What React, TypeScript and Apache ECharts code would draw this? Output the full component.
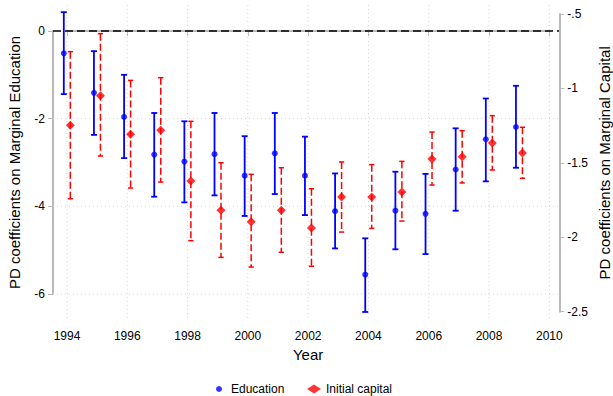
import React, { useEffect, useRef } from "react";
import * as echarts from "echarts";

// ---- data ----
const years = [1994, 1995, 1996, 1997, 1998, 1999, 2000, 2001, 2002, 2003, 2004, 2005, 2006, 2007, 2008, 2009];

// Education: PD coefficients (left axis)
const eduCoef = [-0.51, -1.41, -1.96, -2.82, -2.98, -2.81, -3.3, -2.79, -3.3, -4.11, -5.56, -4.1, -4.17, -3.16, -2.47, -2.19];
const eduLow = [-1.44, -2.37, -2.9, -3.78, -3.91, -3.75, -4.22, -3.72, -4.2, -4.96, -6.41, -4.98, -5.09, -4.1, -3.43, -3.12];
const eduHigh = [0.43, -0.46, -1.0, -1.87, -2.06, -1.87, -2.4, -1.87, -2.41, -3.25, -4.73, -3.21, -3.26, -2.22, -1.54, -1.25];

// Initial capital: PD coefficients (right axis)
const capCoef = [-1.248, -1.049, -1.308, -1.281, -1.622, -1.819, -1.895, -1.819, -1.938, -1.729, -1.729, -1.696, -1.474, -1.459, -1.367, -1.434];
const capLow = [-1.741, -1.454, -1.669, -1.629, -2.023, -2.135, -2.2, -2.101, -2.195, -1.965, -1.94, -1.891, -1.649, -1.635, -1.548, -1.604];
const capHigh = [-0.753, -0.632, -0.946, -0.928, -1.221, -1.499, -1.577, -1.533, -1.674, -1.494, -1.512, -1.49, -1.293, -1.284, -1.183, -1.261];

const xTicks = [1994, 1996, 1998, 2000, 2002, 2004, 2006, 2008, 2010];
const leftGridTicks = [-2, -4, -6];
const zeroLine = [0];

const FONT = "'Liberation Sans', Arial, sans-serif";
const AXIS_GRAY = "#b8b8b8";
const BLUE = "#0000ff";
const RED = "#ff0000";

const EDU_OFF = -3.2;
const CAP_OFF = 3.3;

function makeErrBar(off: number, color: string, width: number, dash: number[] | null, cap: number) {
  return (params: any, api: any) => {
    const lo = api.coord([api.value(0), api.value(1)]);
    const hi = api.coord([api.value(0), api.value(2)]);
    const x = lo[0] + off;
    const children: any[] = [
      {
        type: "line",
        shape: { x1: x, y1: hi[1], x2: x, y2: lo[1] },
        style: { stroke: color, lineWidth: width, lineDash: dash || undefined },
      },
      {
        type: "line",
        shape: { x1: x - cap, y1: hi[1], x2: x + cap, y2: hi[1] },
        style: { stroke: color, lineWidth: width },
      },
      {
        type: "line",
        shape: { x1: x - cap, y1: lo[1], x2: x + cap, y2: lo[1] },
        style: { stroke: color, lineWidth: width },
      },
    ];
    return { type: "group", children };
  };
}

export default function App() {
  const ref = useRef<HTMLDivElement>(null);
  useEffect(() => {
    document.body.style.margin = "0";
    const chart = echarts.init(ref.current!, null, { renderer: "svg" });

    const frameRender = (params: any, api: any) => {
      const children: any[] = [];
      const yTop = 5;
      const yBot = 320.7;
      const xL = 53;
      const xR = 559;
      xTicks.forEach((t) => {
        const x = api.coord([t, 0])[0];
        children.push({
          type: "line",
          shape: { x1: x, y1: yTop, x2: x, y2: yBot },
          style: { stroke: "#d6d6d6", lineWidth: 1, lineDash: [1, 3] },
        });
      });
      leftGridTicks.forEach((v) => {
        const y = api.coord([1994, v])[1];
        children.push({
          type: "line",
          shape: { x1: xL, y1: y, x2: xR, y2: y },
          style: { stroke: "#d6d6d6", lineWidth: 1, lineDash: [1, 3] },
        });
      });
      zeroLine.forEach((v) => {
        const y = api.coord([1994, v])[1];
        children.push({
          type: "line",
          shape: { x1: xL, y1: y, x2: xR, y2: y },
          style: { stroke: "#000000", lineWidth: 1.3, lineDash: [8, 4] },
        });
      });
      return { type: "group", children };
    };

    const option: any = {
      animation: false,
      textStyle: { fontFamily: FONT, color: "#000" },
      grid: [
        { left: 67, right: 63.7, top: 31, bottom: 102, containLabel: false, outerBoundsMode: "none" },
        { left: 67, right: 63.7, top: 14, bottom: 84.3, containLabel: false, outerBoundsMode: "none" },
      ],
      legend: [
        {
          data: ["Education"],
          left: 216,
          top: 383,
          padding: 0,
          itemWidth: 14,
          itemHeight: 6,
          selectedMode: false,
          textStyle: { fontSize: 12, color: "#000", fontFamily: FONT },
        },
        {
          data: ["Initial capital"],
          left: 307,
          top: 383,
          padding: 0,
          itemWidth: 14,
          itemHeight: 9,
          selectedMode: false,
          textStyle: { fontSize: 12, color: "#000", fontFamily: FONT },
        },
      ],
      xAxis: [
        {
          type: "value",
          gridIndex: 0,
          min: 1994,
          max: 2010,
          interval: 2,
          position: "bottom",
          offset: 26.7,
          name: "Year",
          nameLocation: "middle",
          nameGap: 26,
          nameMoveOverlap: false,
          nameTextStyle: { fontSize: 15, color: "#000", fontFamily: FONT },
          axisLine: { show: true, lineStyle: { color: AXIS_GRAY, width: 2 } },
          axisTick: { show: true, length: 5, lineStyle: { color: AXIS_GRAY, width: 1 } },
          axisLabel: { margin: 9, fontSize: 12, color: "#000", formatter: (v: number) => String(v) },
          splitLine: { show: false },
        },
        {
          type: "value",
          gridIndex: 1,
          min: 1994,
          max: 2010,
          interval: 2,
          show: false,
          splitLine: { show: false },
        },
      ],
      yAxis: [
        {
          type: "value",
          gridIndex: 0,
          min: -6,
          max: 0,
          interval: 2,
          position: "left",
          offset: 14,
          name: "PD coefficients on Marginal Education",
          nameLocation: "middle",
          nameGap: 31,
          nameMoveOverlap: false,
          nameTextStyle: { fontSize: 15, color: "#000", fontFamily: FONT },
          axisLine: { show: true, lineStyle: { color: AXIS_GRAY, width: 2 } },
          axisTick: { show: true, length: 5, lineStyle: { color: AXIS_GRAY, width: 1 } },
          axisLabel: { margin: 8, fontSize: 12, color: "#000" },
          splitLine: { show: false },
        },
        {
          type: "value",
          gridIndex: 1,
          min: -2.5,
          max: -0.5,
          interval: 0.5,
          position: "right",
          offset: 10,
          name: "PD coefficients on Marginal Capital",
          nameLocation: "middle",
          nameRotate: 90,
          nameGap: 38,
          nameMoveOverlap: false,
          nameTextStyle: { fontSize: 15, lineHeight: 15, color: "#000", fontFamily: FONT },
          axisLine: { show: true, lineStyle: { color: AXIS_GRAY, width: 2 } },
          axisTick: { show: true, length: 5, lineStyle: { color: AXIS_GRAY, width: 1 } },
          axisLabel: {
            margin: 8,
            fontSize: 12,
            color: "#000",
            formatter: (v: number) => String(v).replace("0.", "."),
          },
          splitLine: { show: false },
        },
      ],
      series: [
        {
          type: "custom",
          name: "frame",
          xAxisIndex: 0,
          yAxisIndex: 0,
          clip: false,
          silent: true,
          z: 1,
          renderItem: frameRender,
          data: [[1994, 0]],
        },
        {
          type: "custom",
          name: "Education CI",
          xAxisIndex: 0,
          yAxisIndex: 0,
          clip: false,
          z: 3,
          renderItem: makeErrBar(EDU_OFF, BLUE, 1.8, null, 3),
          data: years.map((y, i) => [y, eduLow[i], eduHigh[i]]),
        },
        {
          type: "custom",
          name: "Initial capital CI",
          xAxisIndex: 1,
          yAxisIndex: 1,
          clip: false,
          z: 3,
          renderItem: makeErrBar(CAP_OFF, RED, 1.5, [7, 3], 2.6),
          data: years.map((y, i) => [y, capLow[i], capHigh[i]]),
        },
        {
          type: "scatter",
          name: "Education",
          xAxisIndex: 0,
          yAxisIndex: 0,
          symbol: "circle",
          symbolSize: 6,
          symbolOffset: [EDU_OFF, 0],
          itemStyle: { color: BLUE },
          z: 4,
          data: years.map((y, i) => [y, eduCoef[i]]),
        },
        {
          type: "scatter",
          name: "Initial capital",
          xAxisIndex: 1,
          yAxisIndex: 1,
          symbol: "diamond",
          symbolSize: 9,
          symbolOffset: [CAP_OFF, 0],
          itemStyle: { color: RED },
          z: 4,
          data: years.map((y, i) => [y, capCoef[i]]),
        },
      ],
    };

    chart.setOption(option);
    return () => chart.dispose();
  }, []);
  return <div ref={ref} style={{ width: 613, height: 396 }} />;
}
